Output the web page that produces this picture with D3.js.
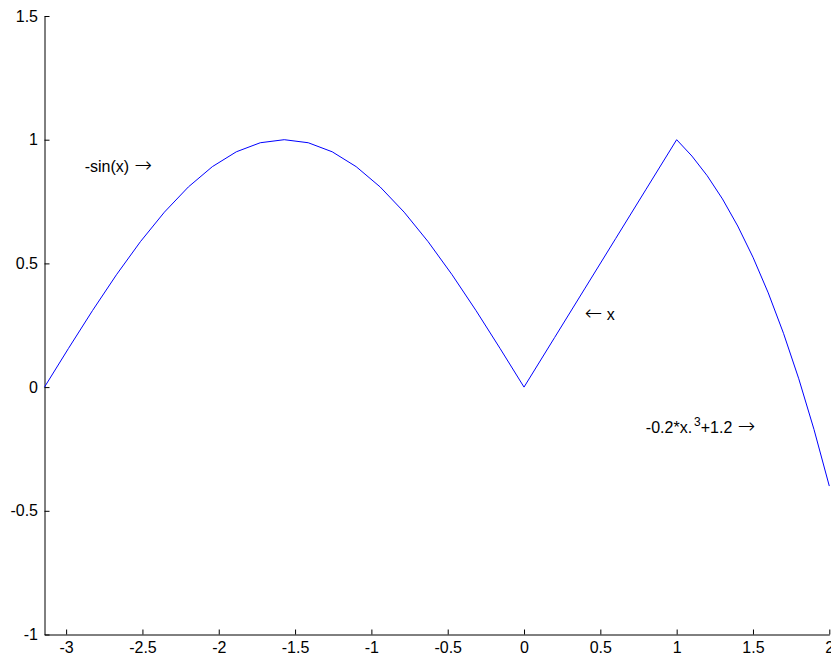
<!DOCTYPE html>
<html>
<head>
<meta charset="utf-8">
<script src="https://cdn.jsdelivr.net/npm/d3@7"></script>
<style>
  html, body { margin: 0; padding: 0; background: #fff; }
  svg text { font-family: "Liberation Sans", Arial, Helvetica, sans-serif; }
  .arrow { font-family: "DejaVu Sans", sans-serif; font-weight: 200; }
</style>
</head>
<body>
<svg id="chart" width="831" height="656"></svg>
<script>
// Piecewise curve: -sin(x) on [-pi,0], x on [0,1], -0.2*x^3+1.2 on [1,2]
const xValues = [
  -3.1416, -2.9845, -2.8274, -2.6704, -2.5133, -2.3562, -2.1991, -2.0420,
  -1.8850, -1.7279, -1.5708, -1.4137, -1.2566, -1.0996, -0.9425, -0.7854,
  -0.6283, -0.4712, -0.3142, -0.1571, 0,
  0.2, 0.4, 0.6, 0.8, 1.0,
  1.1, 1.2, 1.3, 1.4, 1.5, 1.6, 1.7, 1.8, 1.9, 2.0
];
const yValues = [
  0, 0.1564, 0.3090, 0.4540, 0.5878, 0.7071, 0.8090, 0.8910,
  0.9511, 0.9877, 1.0, 0.9877, 0.9511, 0.8910, 0.8090, 0.7071,
  0.5878, 0.4540, 0.3090, 0.1564, 0,
  0.2, 0.4, 0.6, 0.8, 1.0,
  0.9338, 0.8544, 0.7606, 0.6512, 0.525, 0.3808, 0.2174, 0.0336, -0.1718, -0.4
];
const xTicks = [-3, -2.5, -2, -1.5, -1, -0.5, 0, 0.5, 1, 1.5, 2];
const yTicks = [-1, -0.5, 0, 0.5, 1, 1.5];

// Text labels: each is a list of pieces (plain, superscript, arrow)
const annotations = [
  { x: -2.878, y: 0.869, parts: [["t", "-sin(x) "], ["a", "\u2192"]] },
  { x: 0.391, y: 0.270, parts: [["a", "\u2190"], ["t", " x"]] },
  { x: 0.798, y: -0.187, parts: [["t", "-0.2*x."], ["s", "3"], ["t", "+1.2 "], ["a", "\u2192"]] }
];

const svg = d3.select("#chart");
const plotLeft = 44.5, plotRight = 829.3, plotTop = 16, plotBottom = 634.5;

const x = d3.scaleLinear().domain([-Math.PI, 2]).range([plotLeft, plotRight]);
const y = d3.scaleLinear().domain([-1, 1.5]).range([plotBottom, plotTop]);

const fmt = d => String(d);

// Axes with inward ticks
const xAxis = d3.axisBottom(x).tickValues(xTicks).tickSizeInner(-5).tickSizeOuter(0)
  .tickPadding(7.5).tickFormat(fmt);
const yAxis = d3.axisLeft(y).tickValues(yTicks).tickSizeInner(-5).tickSizeOuter(0)
  .tickPadding(6.5).tickFormat(fmt);

const gx = svg.append("g").attr("transform", `translate(0,${plotBottom})`).call(xAxis);
const gy = svg.append("g").attr("transform", `translate(${plotLeft},0)`).call(yAxis);

[gx, gy].forEach(g => {
  g.attr("font-family", null).attr("font-size", null);
  g.select(".domain").attr("stroke", "#000").attr("stroke-width", 1);
  g.selectAll(".tick line").attr("stroke", "#000").attr("stroke-width", 1);
  g.selectAll(".tick text").attr("fill", "#000").style("font-size", "16px");
});

// The curve
const pts = xValues.map((v, i) => [v, yValues[i]]);
svg.append("path")
  .datum(pts)
  .attr("fill", "none")
  .attr("stroke", "#0000ff")
  .attr("stroke-width", 1)
  .attr("d", d3.line().x(d => x(d[0])).y(d => y(d[1])));

// Text annotations
annotations.forEach(a => {
  const t = svg.append("text")
    .attr("x", x(a.x)).attr("y", y(a.y))
    .attr("fill", "#000")
    .style("font-size", "16px");
  let raised = false;
  a.parts.forEach(([kind, str]) => {
    const s = t.append("tspan").text(str);
    if (kind === "s") {
      s.attr("dy", "-7").attr("dx", "2").style("font-size", "12px");
      raised = true;
    } else {
      if (raised) { s.attr("dy", "7"); raised = false; }
      if (kind === "a") s.attr("class", "arrow").attr("dx", "1").style("font-size", "21px");
    }
  });
});
</script>
</body>
</html>
